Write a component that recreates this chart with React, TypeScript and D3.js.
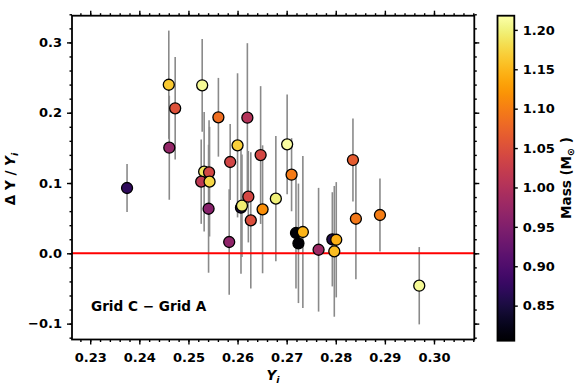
import React, { useEffect, useRef } from 'react'
import * as d3 from 'd3'

// initial helium Y_i of each star
const yInit = [
  0.2375, 0.2460, 0.2473, 0.2461, 0.2528, 0.2561, 0.2620, 0.2532, 0.2542, 0.2526,
  0.2543, 0.2585, 0.2600, 0.2647, 0.2541, 0.2607, 0.2609, 0.2622, 0.2627, 0.2651,
  0.2678, 0.2583, 0.2701, 0.2710, 0.2719, 0.2733, 0.2724, 0.2765, 0.2793, 0.2801,
  0.2797, 0.2835, 0.2841, 0.2890, 0.2970
]
// relative difference Grid C - Grid A
const deltaY = [
  0.0929, 0.2398, 0.2063, 0.1502, 0.2390, 0.1935, 0.1929, 0.1161, 0.1152, 0.1019,
  0.1019, 0.1299, 0.1536, 0.1398, 0.0634, 0.0649, 0.0677, 0.0805, 0.0469, 0.0626,
  0.0777, 0.0161, 0.1550, 0.1118, 0.0289, 0.0303, 0.0142, 0.0051, 0.0199, 0.0193,
  0.0028, 0.1327, 0.0492, 0.0545, -0.0461
]
const deltaErr = [
  0.034, 0.077, 0.073, 0.074, 0.066, 0.056, 0.106, 0.085, 0.074, 0.060,
  0.078, 0.054, 0.1025, 0.098, 0.091, 0.094, 0.073, 0.065, 0.097, 0.091,
  0.089, 0.075, 0.071, 0.052, 0.079, 0.108, 0.085, 0.088, 0.067, 0.082,
  0.093, 0.059, 0.086, 0.052, 0.055
]
const mass = [
  0.870, 1.165, 1.053, 0.970, 1.210, 1.085, 1.004, 1.190, 1.040, 1.016,
  1.177, 1.037, 1.170, 1.040, 0.958, 0.855, 1.197, 1.040, 1.050, 1.115,
  1.200, 0.966, 1.215, 1.098, 0.810, 1.148, 0.808, 0.980, 0.855, 1.145,
  1.156, 1.066, 1.095, 1.100, 1.210
]

const xTicks = [0.23, 0.24, 0.25, 0.26, 0.27, 0.28, 0.29, 0.30]
const yTicks = [-0.1, 0.0, 0.1, 0.2, 0.3]
const massTicks = [0.85, 0.90, 0.95, 1.00, 1.05, 1.10, 1.15, 1.20]

const font = 'DejaVu Sans, sans-serif'

export default function App() {
  const ref = useRef<SVGSVGElement>(null)

  useEffect(() => {
    const svg = d3.select(ref.current)
    svg.selectAll('*').remove()

    const left = 72, right = 474.3, top = 15.7, bottom = 339.5

    const x = d3.scaleLinear().domain([0.22629, 0.30821]).range([left, right])
    const y = d3.scaleLinear().domain([-0.1226, 0.338]).range([bottom, top])
    const color = d3.scaleSequential(d3.interpolateInferno).domain([0.8055, 1.218])

    const xMinor = d3.range(0, 41).map(i => 0.228 + i * 0.002).filter(v => v <= 0.3082)
    const yMinor = d3.range(0, 24).map(i => -0.12 + i * 0.02)

    const g = svg.append('g')

    // error bars
    g.selectAll('line.err')
      .data(yInit)
      .enter()
      .append('line')
      .attr('x1', (d) => x(d))
      .attr('x2', (d) => x(d))
      .attr('y1', (d, i) => y(deltaY[i] - deltaErr[i]))
      .attr('y2', (d, i) => y(deltaY[i] + deltaErr[i]))
      .attr('stroke', '#8a8a8a')
      .attr('stroke-width', 1.6)

    // zero line
    g.append('line')
      .attr('x1', left).attr('x2', right)
      .attr('y1', y(0)).attr('y2', y(0))
      .attr('stroke', '#ff0000')
      .attr('stroke-width', 2)

    // markers
    g.selectAll('circle')
      .data(yInit)
      .enter()
      .append('circle')
      .attr('cx', (d) => x(d))
      .attr('cy', (d, i) => y(deltaY[i]))
      .attr('r', 5.5)
      .attr('fill', (d, i) => color(mass[i]))
      .attr('stroke', '#000')
      .attr('stroke-width', 1.3)

    // axes
    const styleAxis = (sel, labels) => {
      sel.select('.domain').remove()
      sel.selectAll('line').attr('stroke', '#000').attr('stroke-width', 1.4)
      sel.selectAll('text')
        .attr('fill', labels ? '#000' : 'none')
        .style('font-family', font)
        .style('font-size', '13px')
        .style('font-weight', 'bold')
    }

    g.append('g')
      .attr('transform', `translate(0,${bottom})`)
      .call(d3.axisBottom(x).tickValues(xTicks).tickSize(5).tickPadding(8).tickFormat(d3.format('.2f')))
      .call(s => styleAxis(s, true))
    g.append('g')
      .attr('transform', `translate(0,${bottom})`)
      .call(d3.axisBottom(x).tickValues(xMinor).tickSize(2.5).tickFormat(() => ''))
      .call(s => styleAxis(s, false))
    g.append('g')
      .attr('transform', `translate(0,${top})`)
      .call(d3.axisTop(x).tickValues(xTicks).tickSize(5).tickFormat(() => ''))
      .call(s => styleAxis(s, false))
    g.append('g')
      .attr('transform', `translate(0,${top})`)
      .call(d3.axisTop(x).tickValues(xMinor).tickSize(2.5).tickFormat(() => ''))
      .call(s => styleAxis(s, false))

    g.append('g')
      .attr('transform', `translate(${left},0)`)
      .call(d3.axisLeft(y).tickValues(yTicks).tickSize(5).tickPadding(5).tickFormat(d3.format('.1f')))
      .call(s => styleAxis(s, true))
    g.append('g')
      .attr('transform', `translate(${left},0)`)
      .call(d3.axisLeft(y).tickValues(yMinor).tickSize(2.5).tickFormat(() => ''))
      .call(s => styleAxis(s, false))
    g.append('g')
      .attr('transform', `translate(${right},0)`)
      .call(d3.axisRight(y).tickValues(yTicks).tickSize(5).tickFormat(() => ''))
      .call(s => styleAxis(s, false))
    g.append('g')
      .attr('transform', `translate(${right},0)`)
      .call(d3.axisRight(y).tickValues(yMinor).tickSize(2.5).tickFormat(() => ''))
      .call(s => styleAxis(s, false))

    // frame
    g.append('rect')
      .attr('x', left).attr('y', top)
      .attr('width', right - left).attr('height', bottom - top)
      .attr('fill', 'none')
      .attr('stroke', '#000')
      .attr('stroke-width', 1.8)

    // annotation
    g.append('text')
      .attr('x', 91).attr('y', 310.5)
      .style('font-family', font)
      .style('font-size', '13.6px')
      .style('font-weight', 'bold')
      .text('Grid C \u2212 Grid A')

    // x label
    const xl = g.append('text')
      .attr('x', 273).attr('y', 379.5)
      .attr('text-anchor', 'middle')
      .style('font-family', font)
      .style('font-size', '13.5px')
      .style('font-weight', 'bold')
    xl.append('tspan').style('font-style', 'italic').text('Y')
    xl.append('tspan').attr('dy', 3).style('font-style', 'italic').style('font-size', '9.5px').text('i')

    // y label
    const yl = g.append('text')
      .attr('transform', 'translate(15,179) rotate(-90)')
      .attr('text-anchor', 'middle')
      .style('font-family', font)
      .style('font-size', '13.5px')
      .style('font-weight', 'bold')
    yl.append('tspan').text('\u0394 Y / ')
    yl.append('tspan').style('font-style', 'italic').text('Y')
    yl.append('tspan').attr('dy', 3).style('font-style', 'italic').style('font-size', '9.5px').text('i')

    // colorbar
    const cbLeft = 497.5, cbRight = 514.3
    const cy = d3.scaleLinear().domain([0.8055, 1.218]).range([340.7, 15.7])
    const defs = svg.append('defs')
    const grad = defs.append('linearGradient')
      .attr('id', 'inferno')
      .attr('x1', 0).attr('y1', 1).attr('x2', 0).attr('y2', 0)
    d3.range(0, 65).forEach(i => {
      grad.append('stop')
        .attr('offset', `${(i / 64) * 100}%`)
        .attr('stop-color', d3.interpolateInferno(i / 64))
    })
    svg.append('rect')
      .attr('x', cbLeft).attr('y', 15.7)
      .attr('width', cbRight - cbLeft).attr('height', 340.7 - 15.7)
      .attr('fill', 'url(#inferno)')
      .attr('stroke', '#000')
      .attr('stroke-width', 1.8)
    svg.append('g')
      .attr('transform', `translate(${cbRight},0)`)
      .call(d3.axisRight(cy).tickValues(massTicks).tickSize(3.5).tickPadding(5).tickFormat(d3.format('.2f')))
      .call(s => styleAxis(s, true))

    const cl = svg.append('text')
      .attr('transform', 'translate(571,178) rotate(-90)')
      .attr('text-anchor', 'middle')
      .style('font-family', font)
      .style('font-size', '13.5px')
      .style('font-weight', 'bold')
    cl.append('tspan').text('Mass (M')
    cl.append('tspan').attr('dy', 3).style('font-size', '9.5px').text('\u2299')
    cl.append('tspan').attr('dy', -3).text(' )')
  }, [])

  return (
    <svg
      ref={ref}
      width={581}
      height={386}
      style={{ position: 'absolute', left: 0, top: 0, background: '#fff' }}
    />
  )
}
